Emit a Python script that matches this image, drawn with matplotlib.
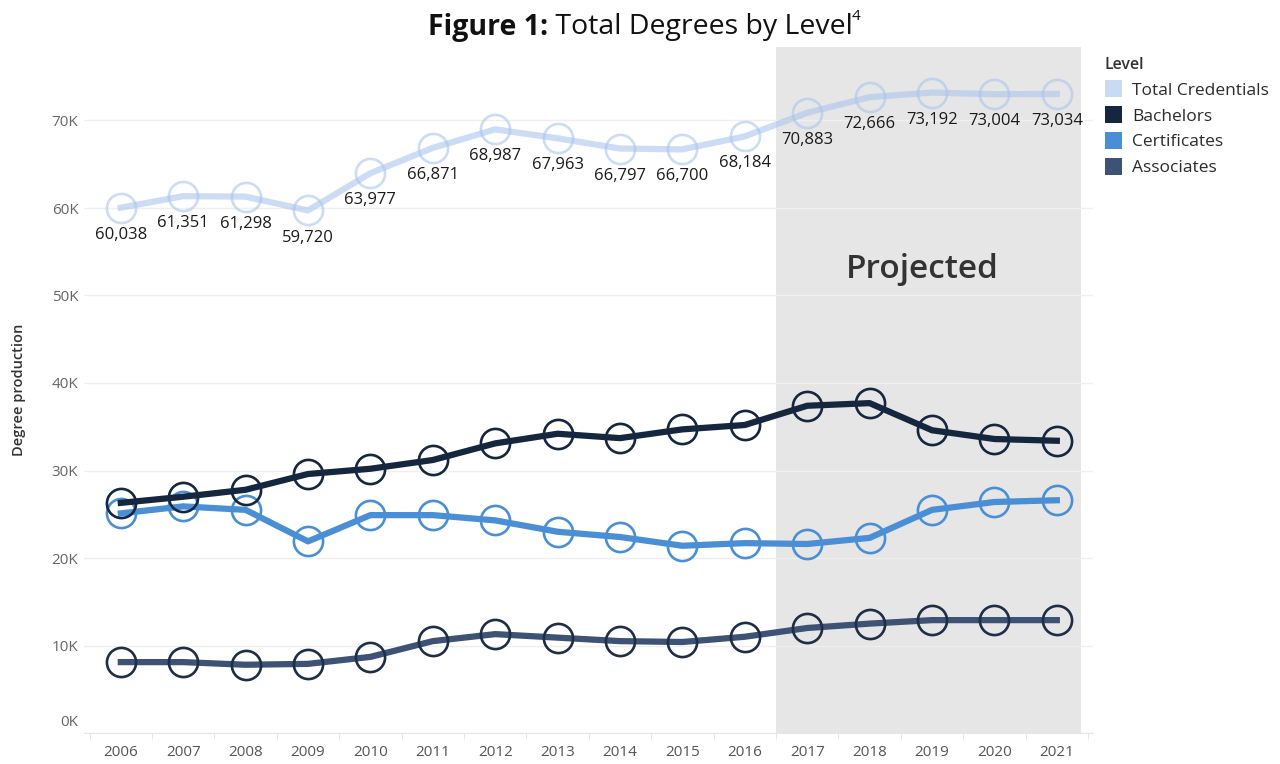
import matplotlib.pyplot as plt
import matplotlib.transforms as mtransforms
from matplotlib.patches import Patch

plt.rcParams['font.family'] = ['Open Sans', 'DejaVu Sans']

years = list(range(2006, 2022))
total = [60038, 61351, 61298, 59720, 63977, 66871, 68987, 67963,
         66797, 66700, 68184, 70883, 72666, 73192, 73004, 73034]
bachelors = [26300, 27000, 27800, 29600, 30200, 31200, 33100, 34200,
             33700, 34700, 35200, 37400, 37700, 34600, 33600, 33400]
certificates = [25100, 25900, 25500, 21900, 24900, 24900, 24300, 23000,
                22400, 21400, 21700, 21600, 22300, 25500, 26400, 26600]
associates = [8100, 8100, 7800, 7900, 8700, 10500, 11300, 10900,
              10500, 10400, 11000, 12000, 12500, 12900, 12900, 12900]
projected_start = 2016.5

y_ticks = [0, 10000, 20000, 30000, 40000, 50000, 60000, 70000]
y_labels = ['0K', '10K', '20K', '30K', '40K', '50K', '60K', '70K']

c_total = '#a9c6ee'
c_bach = '#15263f'
c_cert = '#4a8fd6'
c_assoc = '#3d5275'

fig = plt.figure(figsize=(12.8, 7.64), dpi=100)
ax = fig.add_axes([84 / 1280, 1 - 733 / 764, (1093 - 84) / 1280, (733 - 47) / 764])

ax.axvspan(projected_start, 2021.385, color='#e6e6e6', zorder=0, lw=0)
ax.text(2018.85, 53000, 'Projected', ha='center', va='center', fontsize=24,
        fontweight='semibold', color='#333333', zorder=1)

mk = dict(marker='o', markersize=21, markerfacecolor='none', markeredgewidth=1.9)
ax.plot(years, total, color=c_total, lw=4.5, alpha=0.6, zorder=2,
        markeredgecolor=c_total, **mk)
ax.plot(years, certificates, color=c_cert, lw=4.5, zorder=3,
        markeredgecolor=c_cert, **mk)
ax.plot(years, associates, color=c_assoc, lw=4.5, zorder=3,
        markeredgecolor='#1f2d47', **mk)
ax.plot(years, bachelors, color=c_bach, lw=4.5, zorder=4,
        markeredgecolor=c_bach, **mk)

for x, v in zip(years, total):
    ax.annotate(f'{v:,}', (x, v), xytext=(0, -19.5), textcoords='offset points',
                ha='center', va='center', fontsize=12, color='#1a1a1a', zorder=5)

ax.set_xlim(2005.41, 2021.58)
ax.set_ylim(0, 78400)
ax.set_xticks(years)
ax.set_xticklabels([str(y) for y in years])
ax.set_xticks([y + 0.5 for y in years[:-1]] + [2005.5, 2021.5], minor=True)
ax.tick_params(axis='x', which='major', length=0, labelsize=11,
               labelcolor='#555555', pad=9)
ax.tick_params(axis='x', which='minor', length=4, color='#e0e0e0')
ax.set_yticks(y_ticks)
ax.set_yticklabels(y_labels)
ax.tick_params(axis='y', length=0, labelsize=11, labelcolor='#666666', pad=4)
lab0 = ax.get_yticklabels()[0]
lab0.set_transform(lab0.get_transform() +
                   mtransforms.ScaledTranslation(0, 12 / 100, fig.dpi_scale_trans))

ax.grid(axis='y', color='#efefef', lw=1)
ax.set_axisbelow(True)
for s in ['top', 'right', 'left']:
    ax.spines[s].set_visible(False)
ax.spines['bottom'].set_color('#e6e6e6')

ax.set_ylabel('Degree production', fontsize=10.5, fontweight='semibold',
              color='#333333')
ax.yaxis.set_label_coords(-0.057, 0.5)

# title in three pieces: bold lead, regular text, superscript
renderer = fig.canvas.get_renderer()
ty = 1 - 27 / 764
t1 = fig.text(0, ty, 'Figure 1:', ha='left', va='center', fontsize=20.5,
              fontweight='bold', color='#111111')
t2 = fig.text(0, ty, ' Total Degrees by Level', ha='left', va='center',
              fontsize=20.5, color='#111111')
t3 = fig.text(0, 1 - 17 / 764, '4', ha='left', va='center', fontsize=11,
              color='#111111')
w1 = t1.get_window_extent(renderer).width
w2 = t2.get_window_extent(renderer).width
w3 = t3.get_window_extent(renderer).width
x0 = 645 - (w1 + w2 + w3) / 2
t1.set_x(x0 / 1280)
t2.set_x((x0 + w1) / 1280)
t3.set_x((x0 + w1 + w2 - 1) / 1280)

handles = [Patch(facecolor='#c9dbf3', label='Total Credentials'),
           Patch(facecolor=c_bach, label='Bachelors'),
           Patch(facecolor=c_cert, label='Certificates'),
           Patch(facecolor=c_assoc, label='Associates')]
leg = fig.legend(handles=handles, title='Level', loc='upper left',
                 bbox_to_anchor=(1098 / 1280, 1 - 50 / 764), frameon=False,
                 fontsize=12.5, title_fontsize=11.5, handlelength=1.0,
                 handleheight=1.15, handletextpad=0.55, labelspacing=0.42,
                 alignment='left', borderaxespad=0)
for t in leg.get_texts():
    t.set_color('#2b2b2b')
leg.get_title().set_color('#333333')
leg.get_title().set_fontweight('semibold')

fig.savefig('out.png', dpi=100)
